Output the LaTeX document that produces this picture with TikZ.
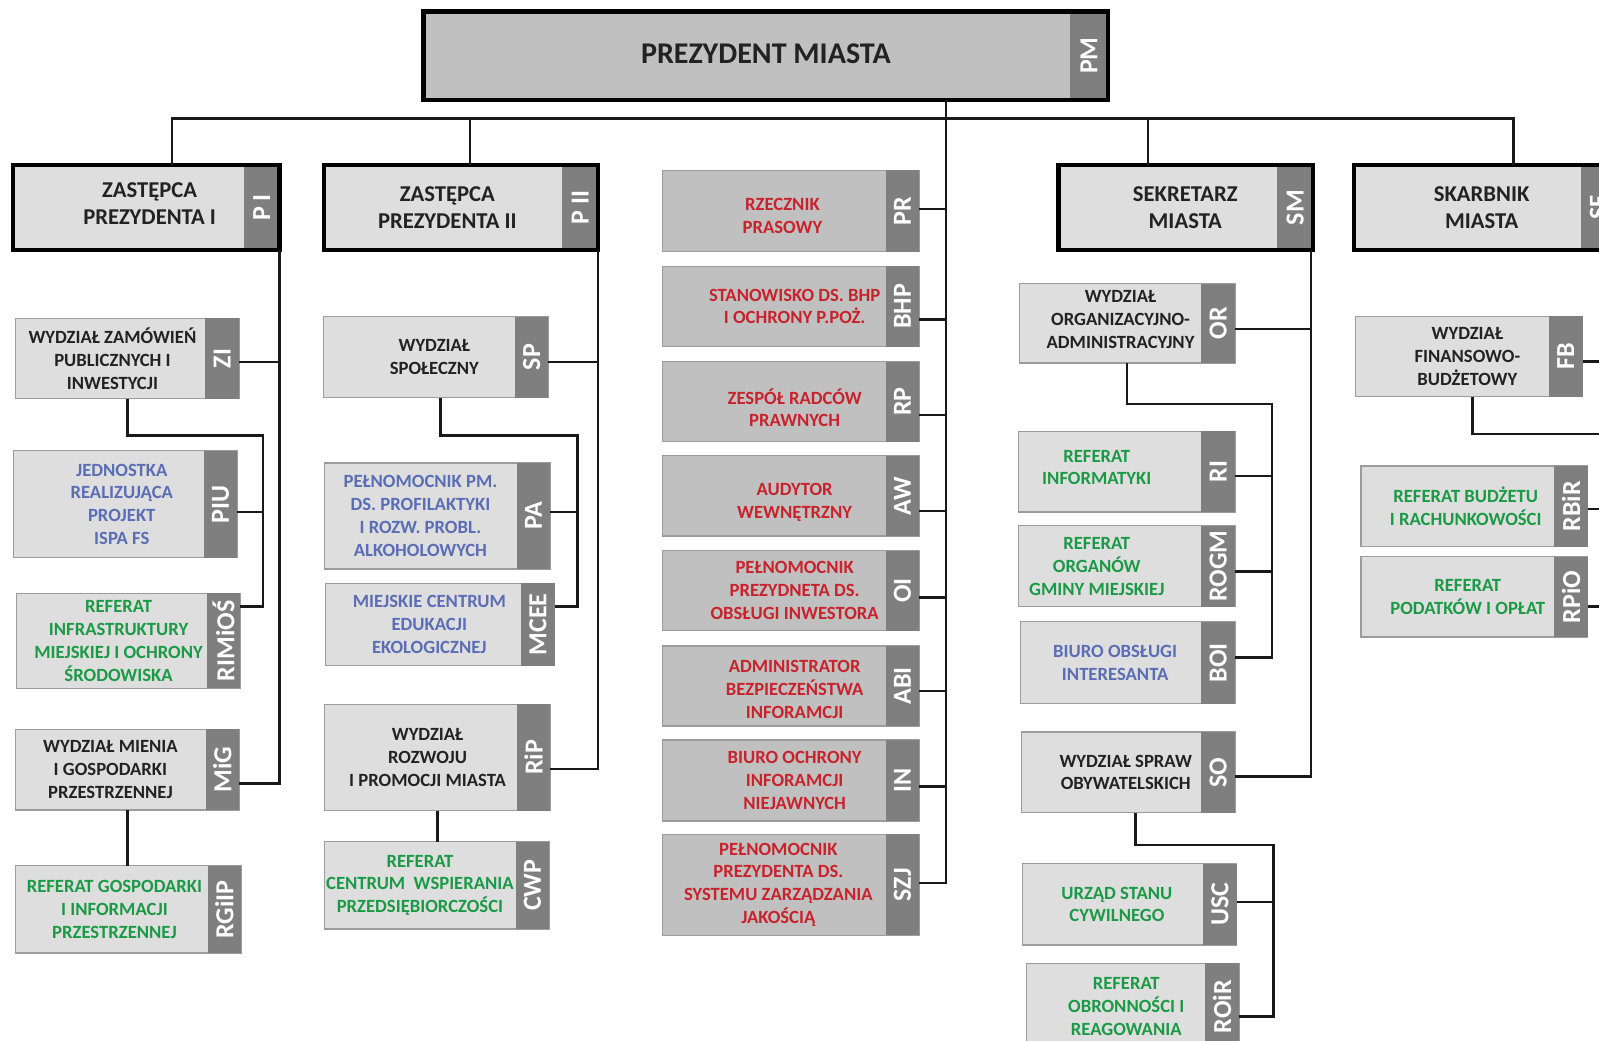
\documentclass[tikz,border=0pt]{standalone}
\usepackage{fontspec}
\setmainfont{Carlito}
\definecolor{lightg}{HTML}{DEDEDE}
\definecolor{darkg}{HTML}{C0C0C0}
\definecolor{stripg}{HTML}{7F7F7F}
\definecolor{edgeg}{HTML}{9C9C9C}
\definecolor{tred}{HTML}{C8232C}
\definecolor{tblue}{HTML}{5A6DB5}
\definecolor{tgreen}{HTML}{1B9A46}
\definecolor{tblack}{HTML}{222222}
\tikzset{
 base/.style={rectangle, inner sep=0pt, outer sep=0pt},
 conn/.style={draw=black!90, line width=2.6pt},
 btxt/.style={base, align=center, font=\bfseries\fontsize{18.3}{22.4}\selectfont},
 lk box/.style={base, fill=lightg, draw=edgeg, line width=1.2pt},
 lk text/.style={btxt, text=tblack},
 lb box/.style={lk box},
 lb text/.style={btxt, text=tblue},
 lg box/.style={lk box},
 lg text/.style={btxt, text=tgreen},
 dr box/.style={base, fill=darkg, draw=edgeg, line width=1.2pt},
 dr text/.style={btxt, text=tred, xshift=20pt},
 hd text/.style={base, align=center, text=tblack, font=\bfseries\fontsize{22.2}{26.5}\selectfont},
 abbr/.style={base, rotate=90, text=white, font=\bfseries\fontsize{25.5}{25.5}\selectfont},
 frame/.style={draw=black, line width=4.2pt},
}
% name x1 y1 x2 y2 kind textopts text abbr
\newcommand\obox[9]{%
 \node[#6 box, minimum width={#4-#2}, minimum height={#5-#3}] (#1) at ({(#2+#4)/2},{(#3+#5)/2}) {};
 \fill[stripg] ([xshift=-33pt]#1.north east) rectangle (#1.south east);
 \node[#6 text, #7] (#1-t) at ({(#2+#4-33)/2},{(#3+#5)/2}) {#8};
 \node[abbr] (#1-a) at ({#4-16.5},{(#3+#5)/2}) {#9};
}
% name x1 y1 x2 y2 textopts text abbr
\newcommand\headbox[8]{%
 \node[base, fill=lightg, minimum width={#4-#2}, minimum height={#5-#3}] (#1) at ({(#2+#4)/2},{(#3+#5)/2}) {};
 \fill[stripg] ([xshift=-35pt]#1.north east) rectangle (#1.south east);
 \draw[frame] (#1.north west) rectangle (#1.south east);
 \node[hd text, #6] (#1-t) at ({(#2+#4-35)/2},{(#3+#5)/2}) {#7};
 \node[abbr] (#1-a) at ({#4-17.5},{(#3+#5)/2}) {#8};
}
\begin{document}
\begin{tikzpicture}[x=1pt,y=-1pt]
\useasboundingbox (0,0) rectangle (1568,1020);
\clip (0,0) rectangle (1568,1020);
\fill[white] (0,0) rectangle (1568,1020);

% ---------- top ----------
\node[base, fill=darkg, minimum width={1086.6-415}, minimum height={98-11}] (pm) at ({(415+1086.6)/2},{(11+98)/2}) {};
\fill[stripg] ([xshift=-37.6pt]pm.north east) rectangle (pm.south east);
\draw[frame, line width=4.6pt] (pm.north west) rectangle (pm.south east);
\node[base, text=tblack, font=\bfseries\fontsize{29.5}{35}\selectfont] (pm-t) at (751,53) {PREZYDENT MIASTA};
\node[abbr] (pm-a) at (1067.8,54.5) {PM};

% ---------- heads ----------
\headbox{zp1}{12.5}{162}{274}{245}{xshift=21pt, yshift=4pt}{ZASTĘPCA\\PREZYDENTA I}{P I}
\headbox{zp2}{318}{162}{586.4}{245}{xshift=4pt}{ZASTĘPCA\\PREZYDENTA II}{P II}
\headbox{sm}{1038}{162}{1287.6}{245}{xshift=17pt}{SEKRETARZ\\MIASTA}{SM}
\headbox{sf}{1327.8}{162}{1585}{245}{xshift=14pt}{SKARBNIK\\MIASTA}{SF}

% ---------- column 1 ----------
\obox{zi}{15}{312}{234.5}{391}{lk}{xshift=2pt}{WYDZIAŁ ZAMÓWIEŃ\\PUBLICZNYCH I\\INWESTYCJI}{ZI}
\obox{piu}{13}{442}{232.8}{547}{lb}{xshift=13pt}{JEDNOSTKA\\REALIZUJĄCA\\PROJEKT\\ISPA FS}{PIU}
\obox{rimios}{15.8}{581.7}{235.7}{675}{lg}{xshift=7pt}{REFERAT\\INFRASTRUKTURY\\MIEJSKIEJ I OCHRONY\\ŚRODOWISKA}{RIMiOŚ}
\obox{mig}{15}{715}{234.6}{794.3}{lk}{}{WYDZIAŁ MIENIA\\I GOSPODARKI\\PRZESTRZENNEJ}{MiG}
\obox{rgiip}{15}{849}{236.5}{934.6}{lg}{xshift=3pt}{REFERAT GOSPODARKI\\I INFORMACJI\\PRZESTRZENNEJ}{RGiIP}

% ---------- column 2 ----------
\obox{sp}{317}{310.5}{537.8}{390}{lk}{xshift=15pt}{WYDZIAŁ\\SPOŁECZNY}{SP}
\obox{pa}{318}{454}{539.6}{558}{lb}{}{PEŁNOMOCNIK PM.\\DS. PROFILAKTYKI\\I ROZW. PROBL.\\ALKOHOLOWYCH}{PA}
\obox{mcee}{319}{571.8}{544}{652.8}{lb}{xshift=6pt}{MIEJSKIE CENTRUM\\EDUKACJI\\EKOLOGICZNEJ}{MCEE}
\obox{rip}{318}{690.6}{539.6}{795}{lk}{xshift=7pt}{WYDZIAŁ\\ROZWOJU\\I PROMOCJI MIASTA}{RiP}
\obox{cwp}{318}{825.3}{538.6}{911}{lg}{}{REFERAT\\CENTRUM\ \ WSPIERANIA\\PRZEDSIĘBIORCZOŚCI}{CWP}

% ---------- centre column ----------
\obox{pr}{650}{167}{901.5}{247}{dr}{xshift=-12pt, yshift=-5pt}{RZECZNIK\\PRASOWY}{PR}
\obox{bhp}{650}{261}{901.5}{340}{dr}{}{STANOWISKO DS. BHP\\I OCHRONY P.POŻ.}{BHP}
\obox{rp}{650}{354.6}{901.5}{433}{dr}{yshift=-6pt}{ZESPÓŁ RADCÓW\\PRAWNYCH}{RP}
\obox{aw}{650}{447}{901.5}{525.6}{dr}{yshift=-6pt}{AUDYTOR\\WEWNĘTRZNY}{AW}
\obox{oi}{650}{540}{901.5}{618.4}{dr}{}{PEŁNOMOCNIK\\PREZYDNETA DS.\\OBSŁUGI INWESTORA}{OI}
\obox{abi}{650}{633.5}{901.5}{712}{dr}{yshift=-3pt}{ADMINISTRATOR\\BEZPIECZEŃSTWA\\INFORAMCJI}{ABI}
\obox{inn}{650}{725.6}{901.5}{805}{dr}{}{BIURO OCHRONY\\INFORAMCJI\\NIEJAWNYCH}{IN}
\obox{szj}{650}{818}{901.5}{917}{dr}{xshift=-16pt}{PEŁNOMOCNIK\\PREZYDENTA DS.\\SYSTEMU ZARZĄDZANIA\\JAKOŚCIĄ}{SZJ}

% ---------- column 4 ----------
\obox{or}{999.6}{278}{1211}{356}{lk}{xshift=10pt, yshift=4pt}{WYDZIAŁ\\ORGANIZACYJNO-\\ADMINISTRACYJNY}{OR}
\obox{ri}{999}{423}{1211}{502}{lg}{xshift=-13pt, yshift=4pt}{REFERAT\\INFORMATYKI}{RI}
\obox{rogm}{999}{515.5}{1211}{595}{lg}{xshift=-13pt}{REFERAT\\ORGANÓW\\GMINY MIEJSKIEJ}{ROGM}
\obox{boi}{1001}{609.6}{1211}{690}{lb}{xshift=4pt}{BIURO OBSŁUGI\\INTERESANTA}{BOI}
\obox{so}{1001.8}{717.8}{1211}{797}{lk}{xshift=14pt}{WYDZIAŁ SPRAW\\OBYWATELSKICH}{SO}
\obox{usc}{1002.8}{847}{1212.7}{926.7}{lg}{xshift=4pt}{URZĄD STANU\\CYWILNEGO}{USC}
\obox{roir}{1006.8}{944.5}{1215}{1030}{lg}{xshift=10pt}{REFERAT\\OBRONNOŚCI I\\REAGOWANIA}{ROiR}

% ---------- column 5 ----------
\obox{fb}{1329}{310}{1551.8}{389}{lk}{xshift=15pt}{WYDZIAŁ\\FINANSOWO-\\BUDŻETOWY}{FB}
\obox{rbir}{1334.6}{457}{1557}{536}{lg}{xshift=8pt}{REFERAT BUDŻETU\\I RACHUNKOWOŚCI}{RBiR}
\obox{rpio}{1334.6}{546}{1557}{624.7}{lg}{xshift=10pt}{REFERAT\\PODATKÓW I OPŁAT}{RPiO}

% ---------- connectors ----------
\coordinate (busL) at (168.6,116);
\coordinate (busR) at (1484,116);
\coordinate (spine) at (927.8,98);
\draw[conn] (zp1.north -| busL) -- (busL) -- (busR) -- (sf.north -| busR);
\draw[conn] (zp2.north -| 461,0) -- (busL -| 461,0);
\draw[conn] (sm.north -| 1125.7,0) -- (busL -| 1125.7,0);
\draw[conn] (pm.south -| spine) |- (szj.east |- 0,866);
\foreach \n/\yy in {pr/205,bhp/313,rp/407,aw/501,oi/586,abi/677.6,inn/771.4}
  \draw[conn] (\n.east |- 0,\yy) -- (spine |- 0,\yy);

% column 1
\draw[conn] (zp1.south east) |- (mig.east |- 0,768);
\draw[conn] (zi.east |- 0,355) -- (zp1.south east |- 0,355);
\coordinate (b1) at (258,427);
\draw[conn] (zi.south) |- (b1) |- (rimios.east |- 0,595);
\draw[conn] (piu.east |- 0,502) -- (b1 |- 0,502);
\draw[conn] (mig.south) -- (rgiip.north -| mig.south);

% column 2
\draw[conn] (zp2.south east) |- (rip.east |- 0,754);
\draw[conn] (sp.east |- 0,355) -- (zp2.south east |- 0,355);
\coordinate (b2) at (566,427);
\draw[conn] (sp.south -| 432,0) |- (b2) |- (mcee.east |- 0,595);
\draw[conn] (pa.east |- 0,502) -- (b2 |- 0,502);
\draw[conn] (rip.south) -- (cwp.north -| rip.south);

% column 4
\coordinate (c4) at ([xshift=-2pt]sm.south east);
\draw[conn] (c4) |- (so.east |- 0,761.6);
\draw[conn] (or.east |- 0,322.6) -- (c4 |- 0,322.6);
\coordinate (b4) at (1247.4,396);
\draw[conn] (or.south) |- (b4) |- (boi.east |- 0,645);
\draw[conn] (ri.east |- 0,466.8) -- (b4 |- 0,466.8);
\draw[conn] (rogm.east |- 0,560.6) -- (b4 |- 0,560.6);
\coordinate (b5) at (1248.5,828.6);
\draw[conn] (so.south -| 1113.6,0) |- (b5) |- (roir.east |- 0,997);
\draw[conn] (usc.east |- 0,884.5) -- (b5 |- 0,884.5);

% column 5
\coordinate (c5) at (1595,245);
\draw[conn] (fb.east |- 0,354.7) -- (c5 |- 0,354.7);
\draw[conn] (fb.south -| 1444,0) |- (c5 |- 0,425.6);
\draw[conn] (rbir.east |- 0,499) -- (c5 |- 0,499);
\draw[conn] (rpio.east |- 0,595) -- (c5 |- 0,595);
\end{tikzpicture}
\end{document}
